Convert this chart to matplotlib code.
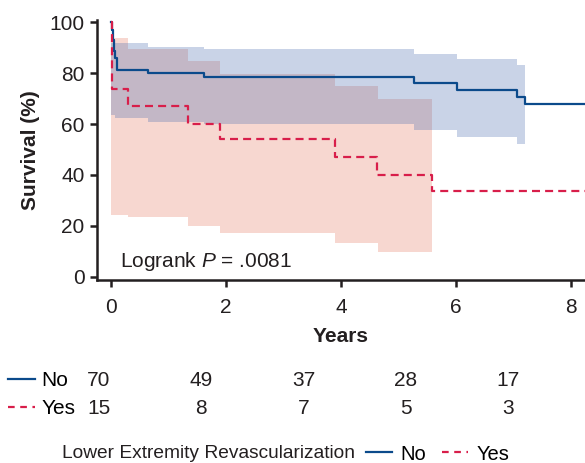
import matplotlib
matplotlib.use("Agg")
import matplotlib.pyplot as plt
from matplotlib.lines import Line2D
import numpy as np

plt.rcParams["font.family"] = ["Liberation Sans", "DejaVu Sans"]
plt.rcParams["mathtext.fontset"] = "custom"
plt.rcParams["mathtext.rm"] = "Liberation Sans"
plt.rcParams["mathtext.it"] = "Liberation Sans:italic"

# Kaplan-Meier step data (years, survival %)
no_t = [0.0, 0.01, 0.03, 0.05, 0.07, 0.10, 0.65, 1.62, 5.26, 6.01, 7.06, 7.19, 8.3]
no_s = [100, 97, 93, 88.5, 86, 81.2, 80.1, 78.5, 76.2, 73.3, 70.7, 67.8, 67.8]
no_ci_t = [0.0, 0.07, 0.65, 1.62, 5.26, 6.01, 7.06, 7.19]
no_lo = [63.5, 62.2, 60.9, 60.0, 57.6, 55.0, 52.2, 52.2]
no_hi = [91.6, 91.6, 90.3, 89.3, 87.3, 85.4, 83.0, 83.0]

yes_t = [0.0, 0.02, 0.30, 1.34, 1.90, 3.90, 4.63, 5.58, 8.3]
yes_s = [100, 73.6, 67.1, 60.0, 54.0, 46.9, 40.1, 33.7, 33.7]
yes_ci_t = [0.0, 0.30, 1.34, 1.90, 3.90, 4.65, 5.58]
yes_lo = [24.3, 23.7, 20.0, 17.4, 13.5, 9.9, 9.9]
yes_hi = [93.6, 89.3, 84.7, 79.6, 74.9, 69.8, 69.8]

risk_years = [0, 2, 4, 6, 8]
risk_no = [70, 49, 37, 28, 17]
risk_yes = [15, 8, 7, 5, 3]

blue = "#0b4a8b"
red = "#d81e4a"
ink = "#231f20"
dash = (0, (3.6, 2.3))

fig = plt.figure(figsize=(5.85, 4.63), dpi=100)
ax = fig.add_axes([97 / 585, 1 - 280 / 463, 1 - 97 / 585, 260 / 463])

ax.fill_between(yes_ci_t, yes_lo, yes_hi, step="post", color="#e9907e", alpha=0.36, lw=0)
ax.fill_between(no_ci_t, no_lo, no_hi, step="post", color="#4d6eb0", alpha=0.3, lw=0)
ax.step(no_t, no_s, where="post", color=blue, lw=1.6)
ax.step(yes_t, yes_s, where="post", color=red, lw=1.6, linestyle=dash)

ax.set_xlim(-0.243, 8.24)
ax.set_ylim(-1.2, 100.8)
ax.set_xticks([0, 2, 4, 6, 8])
ax.set_yticks([0, 20, 40, 60, 80, 100])
for s in ["top", "right"]:
    ax.spines[s].set_visible(False)
for s in ["left", "bottom"]:
    ax.spines[s].set_linewidth(1.8)
    ax.spines[s].set_color(ink)
ax.tick_params(axis="both", length=5, width=1.8, color=ink, labelsize=15, labelcolor=ink)
ax.tick_params(axis="x", pad=8)
ax.tick_params(axis="y", pad=4)
ax.set_xlabel("Years", fontsize=15, fontweight="bold", labelpad=7, color=ink)
ax.set_ylabel("Survival (%)", fontsize=15, fontweight="bold", labelpad=7, color=ink)
ax.text(0.16, 6, "Logrank $P$ = .0081", fontsize=15, va="center", ha="left", color=ink)

# number-at-risk table
tab = fig.add_axes([0, 0, 1, 1], facecolor="none")
tab.set_axis_off()
tab.set_xlim(-99 / 51.125, (585 - 99) / 51.125)
tab.set_ylim(463, 0)
for yr, n in zip(risk_years, risk_no):
    tab.text(yr, 381, str(n), ha="center", va="center", fontsize=15, color=ink)
for yr, n in zip(risk_years, risk_yes):
    tab.text(yr, 409, str(n), ha="center", va="center", fontsize=15, color=ink)

row_handles = [Line2D([], [], color=blue, lw=1.6),
               Line2D([], [], color=red, lw=1.6, linestyle=(0, (3, 2.5)))]
fig.legend(row_handles, ["No", "Yes"], loc="upper left", bbox_to_anchor=(4 / 585, 1 - 367 / 463),
           frameon=False, fontsize=15, handlelength=1.3, handletextpad=0.3,
           labelspacing=0.42, borderaxespad=0, borderpad=0.2)

fig.text(62 / 585, 1 - 453 / 463, "Lower Extremity Revascularization", fontsize=13.8,
         va="center", ha="left", color=ink)
leg_handles = [Line2D([], [], color=blue, lw=1.6),
               Line2D([], [], color=red, lw=1.6, linestyle=(0, (3, 2.5)))]
fig.legend(leg_handles, ["No", "Yes"], loc="center left", bbox_to_anchor=(364 / 585, 1 - 454 / 463),
           frameon=False, fontsize=14.5, ncol=2, handlelength=1.3, handletextpad=0.4,
           columnspacing=0.8, borderaxespad=0, borderpad=0.1)

fig.savefig("out.png", dpi=100)
